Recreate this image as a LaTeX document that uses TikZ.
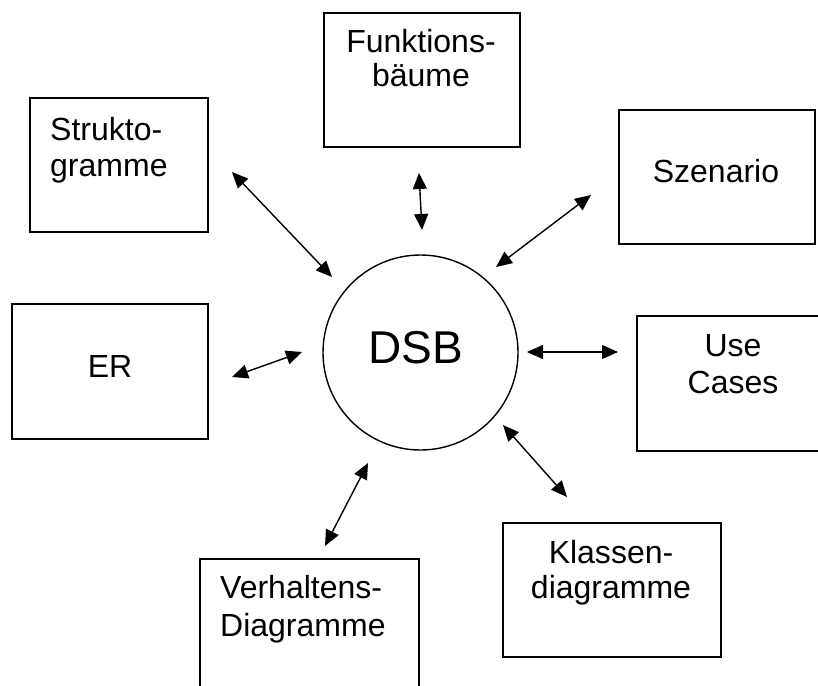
\documentclass[tikz,border=0pt]{standalone}
\usepackage{fontspec}
\setmainfont{Liberation Sans}
\usetikzlibrary{arrows.meta}
\begin{document}
\begin{tikzpicture}[x=1pt,y=-1pt,
  box/.style={draw, line width=1.6pt, inner sep=0pt, anchor=north west},
  lbl/.style={inner sep=0pt, font=\fontsize{32}{36}\selectfont},
  conn/.style={line width=1.4pt, {Triangle[length=16pt,width=14pt]}-{Triangle[length=16pt,width=14pt]}}]
\useasboundingbox (0,0) rectangle (818,685);
\clip (0,0) rectangle (818,685);
% boxes
\node[box, minimum width=178pt, minimum height=134pt] (strukto) at (29,97) {};
\node[box, minimum width=196pt, minimum height=134pt] (funk) at (323,12) {};
\node[box, minimum width=196pt, minimum height=134pt] (szen) at (618,109) {};
\node[box, minimum width=196pt, minimum height=135pt] (er) at (11,303) {};
\node[box, minimum width=200pt, minimum height=135pt] (use) at (636,315) {};
\node[box, minimum width=218pt, minimum height=134pt] (klassen) at (502,522) {};
\node[box, minimum width=219pt, minimum height=160pt] (verh) at (199,558) {};
\node[draw, circle, line width=1.4pt, minimum size=195pt, inner sep=0pt] (dsb) at (420.5,352.5) {};
% texts (base anchor = baseline of last line)
\node[lbl, anchor=base west, align=left] (tstrukto) at (50,176) {Strukto-\\gramme};
\node[lbl, anchor=base, align=center, font=\fontsize{32}{34}\selectfont] (tfunk) at (421,86) {Funktions-\\bäume};
\node[lbl, anchor=base] (tszen) at (716,182) {Szenario};
\node[lbl, anchor=base] (ter) at (110,377) {ER};
\node[lbl, anchor=base, align=center, font=\fontsize{32}{37}\selectfont] (tuse) at (733,393) {Use\\Cases};
\node[lbl, anchor=base, align=center, font=\fontsize{32}{35}\selectfont] (tklassen) at (611,598) {Klassen-\\diagramme};
\node[lbl, anchor=base west, align=left, font=\fontsize{32}{38}\selectfont] (tverh) at (220,636) {Verhaltens-\\Diagramme};
\node[inner sep=0pt, anchor=base, font=\fontsize{46}{50}\selectfont] (tdsb) at (416,363) {DSB};
% connector end points
\coordinate (s1) at (232,172); \coordinate (s2) at (332,277);
\coordinate (f1) at (419,173); \coordinate (f2) at (422,230);
\coordinate (z1) at (591,195); \coordinate (z2) at (496,267);
\coordinate (e1) at (232,377); \coordinate (e2) at (302,352);
\coordinate (u1) at (527,352); \coordinate (u2) at (618,352);
\coordinate (k1) at (503,425); \coordinate (k2) at (567,497);
\coordinate (v1) at (368,463); \coordinate (v2) at (325,546);
\draw[conn] (s1) -- (s2);
\draw[conn] (f1) -- (f2);
\draw[conn] (z1) -- (z2);
\draw[conn] (e1) -- (e2);
\draw[conn] (u1) -- (u2);
\draw[conn] (k1) -- (k2);
\draw[conn] (v1) -- (v2);
\end{tikzpicture}
\end{document}
